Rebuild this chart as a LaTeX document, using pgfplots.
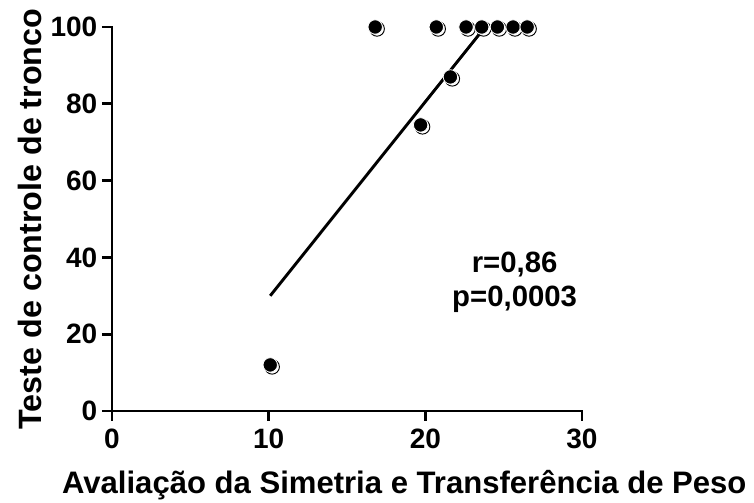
\documentclass[border=0pt]{standalone}
\usepackage{fontspec}
\setmainfont{Liberation Sans}
\usepackage{pgfplots}
\pgfplotsset{compat=1.18}
\begin{document}
\begin{tikzpicture}
\useasboundingbox (-84pt,-69pt) rectangle (481.5pt,308.25pt);
\begin{axis}[
  scale only axis,
  width=352.5pt, height=288pt,
  xmin=0, xmax=30, ymin=0, ymax=100,
  axis x line*=bottom, axis y line*=left,
  axis line style={-, line width=2.2pt, line cap=rect},
  xtick={0,10,20,30}, ytick={0,20,40,60,80,100},
  tick align=outside,
  major tick length=7.5pt,
  every tick/.style={line width=2.2pt, black},
  /pgf/number format/assume math mode=true,
  tick label style={font=\fontsize{21}{21}\selectfont\bfseries},
  xticklabel style={yshift=-2.5pt},
  xlabel style={font=\fontsize{23.3}{25}\selectfont\bfseries, xshift=43pt, yshift=-9pt},
  ylabel style={font=\fontsize{24.2}{26}\selectfont\bfseries, yshift=0pt},
  xlabel={Avaliação da Simetria e Transferência de Peso},
  ylabel={Teste de controle de tronco},
  clip=false,
]
% regression line
\addplot[black, line width=2.2pt, no marks] coordinates {(10.1,30) (23.5,98.4)};
% shadow marks
\addplot[only marks, mark=*, mark size=5.5pt,
  mark options={xshift=1.4pt, yshift=-1.4pt, draw=black, fill=white, line width=0.7pt}]
  coordinates {(10.1,12) (16.8,100) (19.7,74.5) (20.7,100) (21.6,87) (22.6,100) (23.6,100) (24.6,100) (25.6,100) (26.5,100)};
% main marks
\addplot[only marks, mark=*, mark size=5.4pt,
  mark options={draw=white, fill=black, line width=0.6pt}]
  coordinates {(10.1,12) (16.8,100) (19.7,74.5) (20.7,100) (21.6,87) (22.6,100) (23.6,100) (24.6,100) (25.6,100) (26.5,100)};
\node[align=center, font=\fontsize{22}{26}\selectfont\bfseries] at (axis cs:25.7,33.5) {r=0,86\\p=0,0003};
\end{axis}
\end{tikzpicture}
\end{document}
